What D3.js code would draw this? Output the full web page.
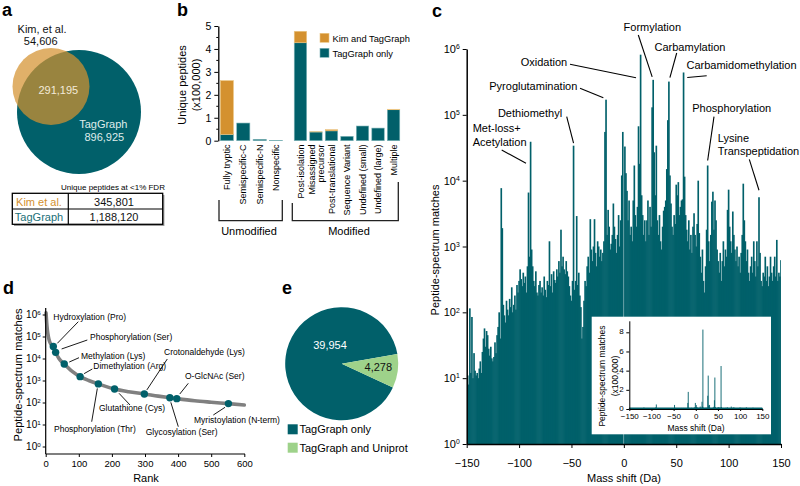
<!DOCTYPE html>
<html><head><meta charset="utf-8">
<script src="https://cdn.jsdelivr.net/npm/d3@7"></script>
<style>
body{margin:0;background:#fff;}
svg{display:block;font-family:"Liberation Sans",Arial,sans-serif;}
</style></head><body>
<svg id="fig" width="800" height="486"></svg>
<script>
const TEAL="#01606a", ORANGE="#d4912f", GREEN="#9ed28a";
const FONT="Liberation Sans, Arial, sans-serif";

// ---------- panel a data ----------
const vennNames=["Kim, et al.","TagGraph"];
const vennCounts=[54606,291195,896925]; // Kim only, shared, TagGraph only
const tableTitle="Unique peptides at <1% FDR";
const tableRows=["Kim et al.","TagGraph"];
const tableValues=[345801,1188120];

// ---------- panel b data (x100,000) ----------
const bCatsUnmod=["Fully tryptic","Semispecific-C","Semispecific-N","Nonspecific"];
const bCatsMod=["Post-isolation","Misassigned\nprecursor","Post-translational","Sequence Variant","Undefined (small)","Undefined (large)","Multiple"];
const bTagOnlyUnmod=[0.27,0.77,0.06,0.012];
const bKimUnmod=[2.35,0,0,0];
const bTagOnlyMod=[4.27,0.38,0.43,0.19,0.64,0.55,1.35];
const bKimMod=[0.50,0.01,0.05,0,0,0,0.02];
const bTicks=[0,1,2,3,4,5];
const bSeries=["Kim and TagGraph","TagGraph only"];

// ---------- panel c data: PSM counts per 1-Da bin, mass shift -150..150 ----------
const massStart=-150;
const psmCounts=[
 9,11,8,115,12,85,10,24,13,11,
 12,10,14,18,12,25,40,57,30,52,
 45,28,22,30,20,18,21,35,24,45,
 60,100,40,7700,1900,130,90,70,150,110,
 90,160,120,240,100,130,180,110,260,200,
 300,450,320,250,400,280,350,200,500,6600,
 700,39000,900,500,300,250,420,200,180,260,
 300,200,240,180,350,220,170,300,260,1200,
 250,380,200,420,310,280,450,350,600,400,
 1800,500,700,450,380,600,420,350,250,180,
 150,300,34000,220,300,2900,260,400,180,120,
 40,60,150,300,250,500,700,400,2600,900,
 600,1000,2600,800,500,1200,1000,700,900,600,
 800,1200,55000,170000,1500,3600,2000,900,1100,1500,
 4500,2000,1300,800,1500,3000,1000,2500,12000,55000,
 null,
 33000,13000,7000,2500,5000,1500,2000,1200,5000,17000,
 3000,2000,4000,67000,18000,820000,6000,3000,1500,2500,
 1200,2500,5000,1500,4000,2000,130000,340000,27000,6000,
 34000,2500,1500,3000,1200,900,2000,3500,4000,5000,
 15000,83000,320000,12000,4500,2000,1500,3000,2200,8700,
 6000,9500,3000,4000,5000,5200,440000,11500,3000,1800,
 1200,2500,900,1500,800,2000,3200,1500,1000,2200,
 10000,1600,700,400,900,300,200,500,1800,17000,
 1200,600,1500,4800,6800,1800,5000,2500,900,600,
 400,800,300,600,1200,500,900,700,3600,7300,
 2000,1200,800,3400,1500,900,600,1000,500,700,
 400,800,1500,9000,2500,1200,600,900,400,300,
 500,700,400,1200,600,350,1200,500,5600,800,
 300,250,400,350,700,300,500,250,350,700,
 400,300,500,700,350,1260,300,400,350,620
];
const cXTicks=[-150,-100,-50,0,50,100,150];
const cYTicks=[1,10,100,1000,10000,100000,1000000];
const cInsetYTicks=[0,2,4,6,8];
const cAnnotNames=[["Oxidation"],["Formylation"],["Carbamylation"],["Carbamidomethylation"],["Pyroglutamination"],["Dethiomethyl"],["Met-loss+","Acetylation"],["Phosphorylation"],["Lysine","Transpeptidation"]];
const cAnnotMass=[16,28,43,57,-17,-48,-89,80,129];

// ---------- panel d data ----------
const dRank=[1,3,5,8,12,18,23,30,40,56,80,104,130,159,208,250,298,340,375,396,450,500,552,600];
const dPSM=[1200000,420000,200000,100000,58000,41000,35000,19000,10000,5600,2600,1500,1000,700,410,310,245,195,165,150,120,103,89,77];
const dModNames=["Hydroxylation (Pro)","Phosphorylation (Ser)","Methylation (Lys)","Dimethylation (Arg)","Phosphorylation (Thr)","Glutathione (Cys)","Crotonaldehyde (Lys)","Glycosylation (Ser)","O-GlcNAc (Ser)","Myristoylation (N-term)"];
const dModRank=[23,30,56,104,159,208,298,375,396,552];
const dModPSM=[35000,19000,5600,1500,700,410,245,165,150,89];
const dXTicks=[0,100,200,300,400,500,600];
const dYTicks=[1,10,100,1000,10000,100000,1000000];

// ---------- panel e data ----------
const eNames=["TagGraph only","TagGraph and Uniprot"];
const eValues=[39954,4278];

const svg=d3.select("#fig");
const fmt=d3.format(",");

function styleAxis(g,size){
  g.attr("font-family",FONT).attr("font-size",size);
  g.selectAll("path,line").attr("stroke","#000");
}
function supLabels(g,size){
  g.selectAll(".tick text").each(function(d){
    const t=d3.select(this); t.text(null);
    t.append("tspan").text("10");
    t.append("tspan").attr("dy","-0.55em").attr("font-size",size*0.62).text(Math.round(Math.log10(d)));
  });
}
function panelLabel(txt,x,y){
  svg.append("text").attr("x",x).attr("y",y).attr("font-weight","bold").attr("font-size",18).text(txt);
}
panelLabel("a",2,16); panelLabel("b",177,16); panelLabel("c",432,17); panelLabel("d",3,294); panelLabel("e",282,294);

// ================= Panel a =================
(function(){
  const g=svg.append("g");
  g.append("circle").attr("cx",79).attr("cy",112).attr("r",62).attr("fill",TEAL);
  g.append("circle").attr("cx",51).attr("cy",86.5).attr("r",38.5).attr("fill",ORANGE).attr("fill-opacity",0.72);
  const t=(s,x,y,c)=>g.append("text").attr("x",x).attr("y",y).attr("text-anchor","middle").attr("font-size",11).attr("fill",c).text(s);
  t(vennNames[0],42,33,"#111");
  t(fmt(vennCounts[0]),40.7,45,"#111");
  t(fmt(vennCounts[1]),58.3,94,"#f3ead8");
  t(vennNames[1],103.3,127.5,"#dfeceb");
  t(fmt(vennCounts[2]),104.3,141,"#dfeceb");
  // table
  g.append("text").attr("x",113).attr("y",189.5).attr("text-anchor","middle").attr("font-size",8).text(tableTitle);
  g.append("rect").attr("x",14).attr("y",195).attr("width",150.4).attr("height",31).attr("fill","#9a9a9a");
  g.append("rect").attr("x",12.3).attr("y",193.3).attr("width",150.4).attr("height",31).attr("fill","#fff").attr("stroke","#000").attr("stroke-width",1.3);
  g.append("line").attr("x1",12.3).attr("x2",162.7).attr("y1",209).attr("y2",209).attr("stroke","#000").attr("stroke-width",1.2);
  g.append("line").attr("x1",68.3).attr("x2",68.3).attr("y1",193.3).attr("y2",224.3).attr("stroke","#000").attr("stroke-width",1.2);
  const rowCols=[ORANGE,"#1b6f78"];
  tableRows.forEach((r,i)=>{
    g.append("text").attr("x",39).attr("y",205.5+i*15.3).attr("text-anchor","middle").attr("font-size",11).attr("fill",rowCols[i]).text(r);
    g.append("text").attr("x",114).attr("y",205.5+i*15.3).attr("text-anchor","middle").attr("font-size",11).attr("fill","#111").text(fmt(tableValues[i]));
  });
})();

// ================= Panel b =================
(function(){
  const g=svg.append("g");
  const y=d3.scaleLinear().domain([0,5]).range([140.7,26]);
  const x1=d3.scaleBand().domain(bCatsUnmod).range([219,284]).paddingInner(0.2).paddingOuter(0.08);
  const x2=d3.scaleBand().domain(bCatsMod).range([293,401]).paddingInner(0.2).paddingOuter(0.08);
  function bars(x,cats,tag,kim){
    cats.forEach((c,i)=>{
      g.append("rect").attr("x",x(c)).attr("width",x.bandwidth()).attr("y",y(tag[i])).attr("height",y(0)-y(tag[i]))
        .attr("fill",TEAL).attr("stroke","#7fb4b8").attr("stroke-width",0.6);
      if(kim[i]>0) g.append("rect").attr("x",x(c)).attr("width",x.bandwidth()).attr("y",y(tag[i]+kim[i])).attr("height",y(tag[i])-y(tag[i]+kim[i]))
        .attr("fill",ORANGE).attr("stroke","#ebc684").attr("stroke-width",0.6);
    });
  }
  bars(x1,bCatsUnmod,bTagOnlyUnmod,bKimUnmod);
  bars(x2,bCatsMod,bTagOnlyMod,bKimMod);
  const ax=g.append("g").attr("transform","translate(218.3,0)").call(d3.axisLeft(y).tickValues(bTicks).tickFormat(d3.format("d")).tickSize(4).tickSizeOuter(0).tickPadding(3));
  styleAxis(ax,10.5);
  ax.select(".domain").attr("stroke-width",1.3);
  d3.range(0.5,5,1).forEach(v=>g.append("line").attr("x1",216.3).attr("x2",218.3).attr("y1",y(v)).attr("y2",y(v)).attr("stroke","#000"));
  // y label
  g.append("text").attr("transform","translate(185.5,85) rotate(-90)").attr("text-anchor","middle").attr("font-size",11).text("Unique peptides");
  g.append("text").attr("transform","translate(199.5,85) rotate(-90)").attr("text-anchor","middle").attr("font-size",11).text("(x100,000)");
  // x labels
  function xLabels(x,cats){
    cats.forEach(c=>{
      const lines=c.split("\n");
      const cx=x(c)+x.bandwidth()/2;
      const t=g.append("text").attr("transform",`translate(${cx},144.5) rotate(-90)`).attr("text-anchor","end").attr("font-size",9);
      lines.forEach((ln,i)=>t.append("tspan").attr("x",0).attr("y",(i-(lines.length-1)/2)*9.2+3.2).text(ln));
    });
  }
  xLabels(x1,bCatsUnmod); xLabels(x2,bCatsMod);
  g.append("path").attr("d","M219,200V220.7H282.3V200").attr("fill","none").attr("stroke","#222").attr("stroke-width",1.3);
  g.append("path").attr("d","M292.3,203V220.7H398.3V182").attr("fill","none").attr("stroke","#222").attr("stroke-width",1.3);
  g.append("text").attr("x",249).attr("y",234.5).attr("text-anchor","middle").attr("font-size",11).text("Unmodified");
  g.append("text").attr("x",349).attr("y",234.5).attr("text-anchor","middle").attr("font-size",11).text("Modified");
  // legend
  const lc=[ORANGE,TEAL];
  bSeries.forEach((s,i)=>{
    g.append("rect").attr("x",320).attr("y",33.3+i*15).attr("width",9).attr("height",9).attr("fill",lc[i]).attr("stroke",i?"#7fb4b8":"#ebc684").attr("stroke-width",0.6);
    g.append("text").attr("x",332.5).attr("y",41.5+i*15).attr("font-size",9.3).text(s);
  });
})();

// ================= Panel c =================
(function(){
  const g=svg.append("g");
  const x=d3.scaleLinear().domain([-150,150]).range([466.7,781]);
  const y=d3.scaleLog().domain([1,1e6]).range([444,49]);
  const bins=psmCounts.map((v,i)=>({m:massStart+i,v:v}));
  g.append("clipPath").attr("id","cclip").append("rect").attr("x",467).attr("y",40).attr("width",314).attr("height",404);
  const bw=x(1)-x(0);
  g.append("g").attr("clip-path","url(#cclip)").selectAll("rect").data(bins.filter(d=>d.v!=null&&d.v>=1)).join("rect")
    .attr("x",d=>x(d.m-0.5)-0.3).attr("width",bw+0.6).attr("y",d=>y(d.v)).attr("height",d=>y(1)-y(d.v))
    .attr("fill",TEAL);
  // axes
  const ay=g.append("g").attr("transform","translate(466.7,0)").call(d3.axisLeft(y).tickValues(cYTicks).tickSize(4).tickSizeOuter(0).tickPadding(3));
  styleAxis(ay,11); supLabels(ay,11); ay.select(".domain").attr("stroke-width",1.5);
  const ax=g.append("g").attr("transform","translate(0,444)").call(d3.axisBottom(x).tickValues(cXTicks).tickSize(4).tickSizeOuter(0).tickPadding(11));
  styleAxis(ax,11); ax.select(".domain").attr("stroke-width",1.5);
  g.append("text").attr("x",624).attr("y",482).attr("text-anchor","middle").attr("font-size",11).text("Mass shift (Da)");
  g.append("text").attr("transform","translate(439,250) rotate(-90)").attr("text-anchor","middle").attr("font-size",11).text("Peptide-spectrum matches");
  // annotations
  const lay=[
    {tx:544,ty:66.3,a:"middle",sx:570,sy:64.3,dx:-4.6,dy:23},
    {tx:652.3,ty:30.7,a:"middle",sx:638.3,sy:35,dx:-1,dy:-3},
    {tx:690,ty:50.7,a:"middle",sx:676.7,sy:53,dx:1,dy:-4},
    {tx:741.5,ty:69,a:"middle",sx:706.7,sy:75.7,dx:3.7,dy:5},
    {tx:533.3,ty:89.7,a:"middle",sx:580,sy:88.3,dx:-2.7,dy:-2},
    {tx:530,ty:117.3,a:"middle",sx:566.7,sy:116.7,dx:0,dy:-2.5},
    {tx:472.7,ty:132.3,a:"start",sx:501.7,sy:150,dx:-4.6,dy:21.5},
    {tx:731.7,ty:112.3,a:"middle",sx:714,sy:116.7,dx:0,dy:-5},
    {tx:717.7,ty:141.7,a:"start",sx:749.3,sy:159.3,dx:0,dy:-7}
  ];
  cAnnotNames.forEach((lines,i)=>{
    const L=lay[i], m=cAnnotMass[i], v=psmCounts[m-massStart];
    const t=g.append("text").attr("font-size",11).attr("text-anchor",L.a);
    lines.forEach((ln,j)=>t.append("tspan").attr("x",L.tx).attr("y",L.ty+j*13.4).text(ln));
    g.append("line").attr("x1",L.sx).attr("y1",L.sy).attr("x2",x(m)+L.dx).attr("y2",y(v)+L.dy).attr("stroke","#000").attr("stroke-width",1.1);
  });
  // inset
  const gi=g.append("g");
  gi.append("rect").attr("x",591.7).attr("y",316.7).attr("width",179.3).attr("height",117.6).attr("fill","#fff");
  const xi=d3.scaleLinear().domain([-150,150]).range([629.3,762.3]);
  const yi=d3.scaleLinear().domain([0,9.2]).range([409,320.8]);
  gi.append("g").selectAll("line").data(bins).join("line")
    .attr("x1",d=>xi(d.m)).attr("x2",d=>xi(d.m)).attr("y1",yi(0)).attr("y2",d=>yi((d.v||0)/1e5)-0.8)
    .attr("stroke",TEAL).attr("stroke-width",0.9);
  gi.append("line").attr("x1",xi(-150)).attr("x2",xi(150)).attr("y1",yi(0)-0.8).attr("y2",yi(0)-0.8).attr("stroke",TEAL).attr("stroke-width",1.4);
  const aiy=gi.append("g").attr("transform","translate(629.3,0)").call(d3.axisLeft(yi).tickValues(cInsetYTicks).tickSize(3).tickSizeOuter(0).tickPadding(2.5));
  styleAxis(aiy,8);
  aiy.selectAll(".tick text").attr("dy","0.2em");
  const aix=gi.append("g").attr("transform","translate(0,409)").call(d3.axisBottom(xi).tickValues(cXTicks).tickSize(2).tickSizeOuter(0).tickPadding(2));
  styleAxis(aix,8);
  gi.append("text").attr("x",696).attr("y",431).attr("text-anchor","middle").attr("font-size",8.5).text("Mass shift (Da)");
  gi.append("text").attr("transform","translate(605,376) rotate(-90)").attr("text-anchor","middle").attr("font-size",8.5).text("Peptide-spectrum matches");
  gi.append("text").attr("transform","translate(617.5,376) rotate(-90)").attr("text-anchor","middle").attr("font-size",8.5).text("(x100,000)");
})();

// ================= Panel d =================
(function(){
  const g=svg.append("g");
  const x=d3.scaleLinear().domain([0,600]).range([45.7,244.3]);
  const y=d3.scaleLog().domain([1,1e6]).range([446.5,314.5]);
  const line=d3.line().x((d,i)=>x(dRank[i])).y((d,i)=>y(dPSM[i])).curve(d3.curveMonotoneX);
  g.append("path").attr("d",line(dRank)).attr("fill","none").attr("stroke","#808080").attr("stroke-width",3.6).attr("stroke-linecap","round");
  const ay=g.append("g").attr("transform","translate(45.7,0)").call(d3.axisLeft(y).tickValues(dYTicks).tickSize(3).tickSizeOuter(0).tickPadding(2));
  styleAxis(ay,10); supLabels(ay,10); ay.select(".domain").remove();
  const ax=g.append("g").attr("transform","translate(0,454)").call(d3.axisBottom(x).tickValues(dXTicks).tickSize(3).tickSizeOuter(0).tickPadding(3));
  styleAxis(ax,9.5); ax.select(".domain").remove();
  g.append("line").attr("x1",45.7).attr("x2",45.7).attr("y1",308).attr("y2",454).attr("stroke","#000").attr("stroke-width",1.2);
  g.append("line").attr("x1",45.7).attr("x2",245).attr("y1",454).attr("y2",454).attr("stroke","#000").attr("stroke-width",1.2);
  g.append("text").attr("x",146).attr("y",481.5).attr("text-anchor","middle").attr("font-size",11).text("Rank");
  g.append("text").attr("transform","translate(22,375) rotate(-90)").attr("text-anchor","middle").attr("font-size",11.2).text("Peptide-spectrum matches");
  const lay=[
    {tx:53.3,ty:319.7,sx:78.3,sy:321.7,dx:4,dy:-3.2},
    {tx:90,ty:339.7,sx:87.3,sy:340,dx:6,dy:-3.4},
    {tx:81,ty:358.7,sx:79,sy:357.7,dx:5,dy:-2},
    {tx:93.3,ty:368.7,sx:92.3,sy:369,dx:4,dy:-3},
    {tx:54,ty:432.3,sx:91.7,sy:421.7,dx:-1,dy:4.5},
    {tx:99,ty:410.7,sx:130,sy:405,dx:4.5,dy:4.3},
    {tx:164,ty:355.3,sx:167.3,sy:359,dx:2.5,dy:-4},
    {tx:145.7,ty:435.3,sx:178.3,sy:426.7,dx:1,dy:4.6},
    {tx:185,ty:378.7,sx:188.3,sy:383.3,dx:3,dy:-4.6},
    {tx:194,ty:423,sx:213.3,sy:415,dx:-3.4,dy:3.7}
  ];
  dModNames.forEach((n,i)=>{
    const L=lay[i];
    g.append("line").attr("x1",L.sx).attr("y1",L.sy).attr("x2",x(dModRank[i])+L.dx).attr("y2",y(dModPSM[i])+L.dy).attr("stroke","#000").attr("stroke-width",0.9);
    g.append("text").attr("x",L.tx).attr("y",L.ty).attr("font-size",8.5).text(n);
  });
  g.selectAll("circle.m").data(dModRank).join("circle").attr("class","m")
    .attr("cx",d=>x(d)).attr("cy",(d,i)=>y(dModPSM[i])).attr("r",3.7).attr("fill",TEAL);
})();

// ================= Panel e =================
(function(){
  const g=svg.append("g").attr("transform","translate(341.7,363.7)");
  const s=115*Math.PI/180;
  const pie=d3.pie().sort(null).startAngle(s).endAngle(s+2*Math.PI);
  const arc=d3.arc().innerRadius(0).outerRadius(56.5);
  const cols=[TEAL,GREEN];
  g.selectAll("path").data(pie(eValues)).join("path").attr("d",arc).attr("fill",(d,i)=>cols[i]);
  g.append("text").attr("x",330-341.7).attr("y",349-363.7).attr("text-anchor","middle").attr("font-size",11).attr("fill","#fff").text(fmt(eValues[0]));
  g.append("text").attr("x",378.3-341.7).attr("y",371.3-363.7).attr("text-anchor","middle").attr("font-size",11).attr("fill","#111").text(fmt(eValues[1]));
  eNames.forEach((n,i)=>{
    svg.append("rect").attr("x",287.7).attr("y",424.3+i*18.4).attr("width",10).attr("height",10).attr("fill",cols[i]);
    svg.append("text").attr("x",299.5).attr("y",433.3+i*18.4).attr("font-size",11).text(n);
  });
})();
</script>
</body></html>
